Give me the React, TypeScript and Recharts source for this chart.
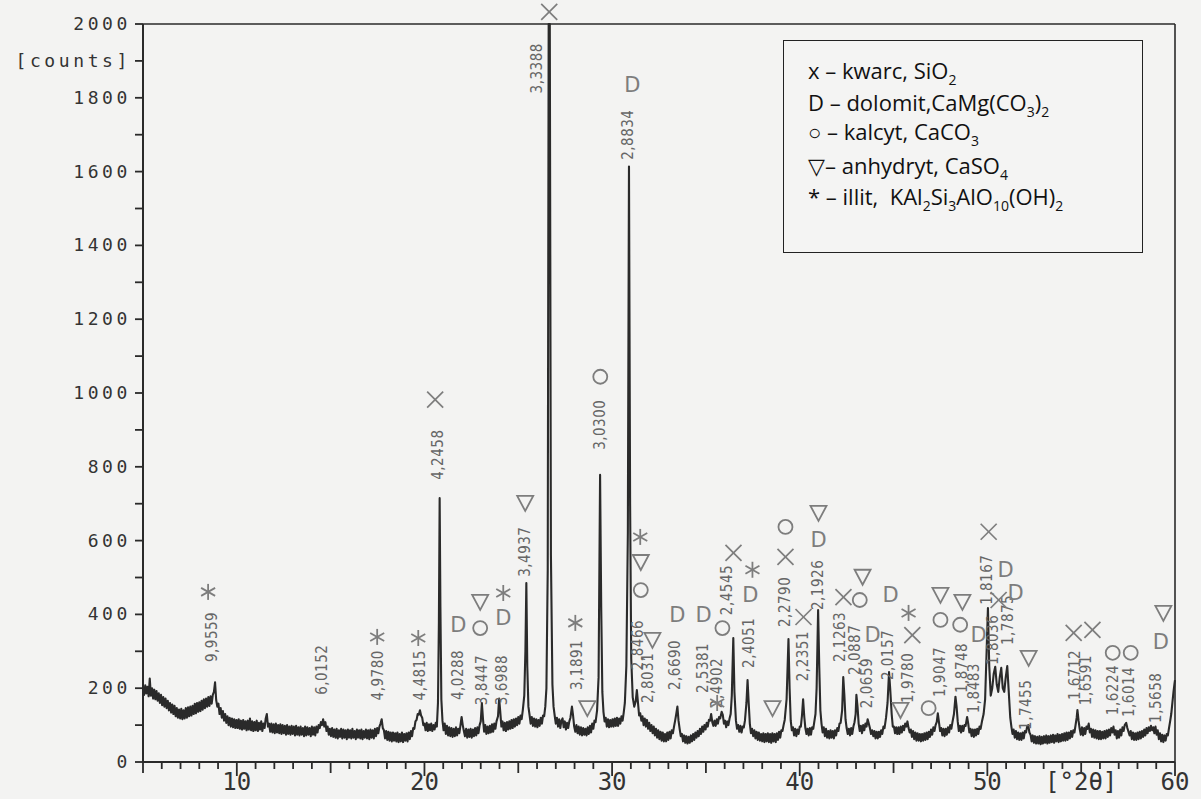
import React from "react";
import { LineChart, Line, XAxis, YAxis, ReferenceDot, ReferenceLine } from "recharts";

// XRD pattern: [2θ, counts]
const pattern: [number, number][] = [
  [5.0,200],[5.06,182],[5.12,208],[5.18,186],[5.24,204],[5.3,178],[5.36,226],[5.42,180],[5.48,200],[5.54,172],[5.6,196],[5.66,170],[5.72,192],[5.78,166],[5.84,186],[5.9,160],[5.96,182],[6.02,154],[6.08,176],[6.14,150],[6.2,172],[6.26,146],[6.32,166],[6.38,140],[6.44,160],[6.5,134],[6.56,156],[6.62,130],[6.68,152],[6.74,124],[6.8,146],[6.86,120],[6.92,142],[6.98,118],[7.04,144],[7.1,116],[7.16,140],[7.22,118],[7.28,146],[7.34,120],[7.4,148],[7.46,124],[7.52,150],[7.58,126],[7.64,152],[7.7,130],[7.76,158],[7.82,132],[7.88,160],[7.94,136],[8.0,162],[8.06,138],[8.12,166],[8.18,142],[8.24,170],[8.3,146],[8.36,172],[8.42,150],[8.48,176],[8.54,152],[8.6,178],[8.66,158],[8.72,182],[8.78,190],[8.84,216],[8.9,168],[8.96,150],[9.02,158],[9.08,130],[9.14,146],[9.2,120],[9.26,138],[9.32,112],[9.38,130],[9.44,106],[9.5,124],[9.56,100],[9.62,120],[9.68,96],[9.74,118],[9.8,94],[9.86,116],[9.92,92],[9.98,114],
  [10.04,92],[10.1,116],[10.16,90],[10.22,112],[10.28,88],[10.34,114],[10.4,90],[10.46,110],[10.52,86],[10.58,112],[10.64,88],[10.7,118],[10.76,86],[10.82,110],[10.88,84],[10.94,108],[11.0,86],[11.06,112],[11.12,84],[11.18,106],[11.24,88],[11.3,110],[11.36,84],[11.42,104],[11.48,92],[11.54,118],[11.6,130],[11.66,96],[11.72,104],[11.78,82],[11.84,104],[11.9,80],[11.96,102],[12.02,78],[12.08,104],[12.14,80],[12.2,100],[12.26,78],[12.32,102],[12.38,76],[12.44,100],[12.5,78],[12.56,98],[12.62,74],[12.68,100],[12.74,76],[12.8,96],[12.86,74],[12.92,98],[12.98,76],[13.04,96],[13.1,72],[13.16,98],[13.22,74],[13.28,94],[13.34,72],[13.4,96],[13.46,74],[13.52,92],[13.58,70],[13.64,96],[13.7,72],[13.76,94],[13.82,74],[13.88,92],[13.94,70],[14.0,96],[14.06,74],[14.12,94],[14.18,72],[14.24,96],[14.3,80],[14.36,100],[14.42,92],[14.48,108],[14.54,100],[14.6,116],[14.66,96],[14.72,108],[14.78,84],[14.84,96],[14.9,74],[14.96,90],
  [15.02,70],[15.08,92],[15.14,68],[15.2,88],[15.26,66],[15.32,90],[15.38,64],[15.44,86],[15.5,68],[15.56,90],[15.62,64],[15.68,88],[15.74,66],[15.8,86],[15.86,62],[15.92,88],[15.98,66],[16.04,86],[16.1,64],[16.16,90],[16.22,66],[16.28,84],[16.34,62],[16.4,88],[16.46,66],[16.52,86],[16.58,64],[16.64,88],[16.7,62],[16.76,84],[16.82,66],[16.88,88],[16.94,64],[17.0,86],[17.06,62],[17.12,88],[17.18,66],[17.24,86],[17.3,64],[17.36,90],[17.42,70],[17.48,92],[17.54,78],[17.6,96],[17.66,104],[17.72,116],[17.78,92],[17.84,86],[17.9,64],[17.96,84],[18.02,60],[18.08,82],[18.14,58],[18.2,80],[18.26,56],[18.32,80],[18.38,58],[18.44,78],[18.5,56],[18.56,80],[18.62,54],[18.68,76],[18.74,56],[18.8,80],[18.86,54],[18.92,76],[18.98,58],[19.04,78],[19.1,56],[19.16,80],[19.22,62],[19.28,84],[19.34,70],[19.4,92],[19.46,90],[19.52,110],[19.58,114],[19.64,130],[19.7,128],[19.76,140],[19.82,126],[19.88,120],[19.94,100],
  [20.0,104],[20.06,86],[20.12,106],[20.18,84],[20.24,102],[20.3,86],[20.36,104],[20.42,84],[20.48,100],[20.54,88],[20.6,106],[20.66,96],[20.72,160],[20.77,380],[20.81,715],[20.85,420],[20.9,170],[20.96,112],[21.02,86],[21.08,104],[21.14,76],[21.2,98],[21.26,72],[21.32,94],[21.38,70],[21.44,92],[21.5,68],[21.56,90],[21.62,70],[21.68,94],[21.74,72],[21.8,90],[21.86,78],[21.92,100],[21.98,122],[22.04,100],[22.1,84],[22.16,70],[22.22,90],[22.28,66],[22.34,88],[22.4,68],[22.46,90],[22.52,66],[22.58,88],[22.64,70],[22.7,92],[22.76,72],[22.82,94],[22.88,78],[22.94,100],[23.0,110],[23.06,160],[23.12,116],[23.18,82],[23.24,100],[23.3,76],[23.36,96],[23.42,78],[23.48,98],[23.54,80],[23.6,102],[23.66,82],[23.72,104],[23.78,90],[23.84,110],[23.92,124],[23.98,172],[24.04,136],[24.1,96],[24.16,110],[24.22,86],[24.28,106],[24.34,84],[24.4,108],[24.46,88],[24.52,110],[24.58,90],[24.64,114],[24.7,92],[24.76,116],[24.82,96],[24.88,118],[24.94,100],
  [25.0,122],[25.06,104],[25.12,126],[25.18,116],[25.24,140],[25.32,180],[25.38,300],[25.43,485],[25.48,260],[25.54,150],[25.6,128],[25.66,104],[25.72,122],[25.78,98],[25.84,118],[25.9,96],[25.96,116],[26.02,94],[26.08,114],[26.14,98],[26.2,120],[26.26,104],[26.32,126],[26.38,124],[26.44,150],[26.5,200],[26.57,520],[26.62,2000],[26.68,2000],[26.74,560],[26.82,210],[26.88,150],[26.94,126],[27.0,104],[27.06,120],[27.12,96],[27.18,116],[27.24,92],[27.3,112],[27.36,118],[27.42,94],[27.48,110],[27.54,88],[27.6,106],[27.66,92],[27.72,110],[27.78,120],[27.86,150],[27.92,126],[27.98,96],[28.04,82],[28.1,100],[28.16,78],[28.22,96],[28.28,74],[28.34,94],[28.4,72],[28.46,92],[28.52,74],[28.58,90],[28.64,72],[28.7,94],[28.76,76],[28.82,98],[28.88,80],[28.94,104],[29.0,90],[29.06,112],[29.12,108],[29.2,140],[29.28,230],[29.36,778],[29.42,420],[29.48,190],[29.54,136],[29.6,110],[29.66,120],[29.72,96],[29.78,116],[29.84,94],[29.9,114],[29.96,96],
  [30.02,116],[30.08,96],[30.14,118],[30.2,98],[30.26,120],[30.32,98],[30.38,118],[30.44,104],[30.5,124],[30.56,112],[30.62,134],[30.68,160],[30.76,260],[30.84,620],[30.9,1614],[30.96,700],[31.02,280],[31.1,175],[31.18,150],[31.26,165],[31.32,195],[31.38,160],[31.44,126],[31.5,132],[31.56,112],[31.62,124],[31.68,100],[31.74,118],[31.8,96],[31.86,114],[31.92,90],[31.98,106],[32.04,84],[32.1,100],[32.16,78],[32.22,96],[32.28,72],[32.34,90],[32.4,66],[32.46,86],[32.52,62],[32.58,82],[32.64,58],[32.7,80],[32.76,56],[32.82,76],[32.88,56],[32.94,80],[33.0,60],[33.06,82],[33.12,64],[33.18,86],[33.24,78],[33.3,96],[33.36,112],[33.42,130],[33.48,150],[33.54,112],[33.6,90],[33.66,70],[33.72,76],[33.78,56],[33.84,72],[33.9,52],[33.96,70],[34.02,50],[34.08,68],[34.14,52],[34.2,72],[34.26,56],[34.32,76],[34.38,60],[34.44,80],[34.5,66],[34.56,84],[34.62,70],[34.68,90],[34.74,76],[34.8,96],[34.86,82],[34.92,100],[34.98,88],
  [35.04,106],[35.1,96],[35.16,114],[35.22,112],[35.28,130],[35.34,108],[35.4,98],[35.46,112],[35.52,98],[35.58,116],[35.64,104],[35.7,122],[35.76,118],[35.84,136],[35.9,128],[35.96,104],[36.02,112],[36.08,94],[36.14,110],[36.2,100],[36.26,118],[36.32,130],[36.38,180],[36.46,336],[36.52,190],[36.6,112],[36.66,90],[36.72,100],[36.78,82],[36.84,98],[36.9,80],[36.96,96],[37.02,94],[37.08,112],[37.16,160],[37.22,222],[37.28,160],[37.34,104],[37.4,78],[37.46,90],[37.52,70],[37.58,86],[37.64,64],[37.7,82],[37.76,60],[37.82,80],[37.88,58],[37.94,76],[38.0,56],[38.06,78],[38.12,54],[38.18,76],[38.24,56],[38.3,78],[38.36,54],[38.42,76],[38.48,52],[38.54,78],[38.6,56],[38.66,76],[38.72,54],[38.78,78],[38.84,60],[38.9,82],[38.96,66],[39.02,86],[39.08,84],[39.14,100],[39.2,114],[39.3,170],[39.4,333],[39.46,200],[39.52,112],[39.58,86],[39.64,94],[39.7,72],[39.76,90],[39.82,70],[39.88,88],[39.94,76],
  [40.0,96],[40.06,96],[40.12,126],[40.18,170],[40.24,124],[40.3,92],[40.36,76],[40.42,90],[40.48,72],[40.54,92],[40.6,74],[40.66,94],[40.72,90],[40.78,110],[40.84,130],[40.9,200],[40.98,412],[41.04,260],[41.1,140],[41.16,104],[41.22,80],[41.28,94],[41.34,70],[41.4,90],[41.46,66],[41.52,84],[41.58,64],[41.64,86],[41.7,66],[41.76,84],[41.82,64],[41.88,86],[41.94,72],[42.0,92],[42.06,84],[42.12,104],[42.18,106],[42.26,140],[42.32,230],[42.38,180],[42.44,116],[42.5,92],[42.56,76],[42.62,90],[42.68,72],[42.74,92],[42.8,76],[42.86,96],[42.92,108],[42.98,130],[43.02,182],[43.08,150],[43.14,104],[43.2,84],[43.26,98],[43.32,78],[43.38,100],[43.44,86],[43.5,104],[43.56,96],[43.62,116],[43.68,104],[43.74,92],[43.8,76],[43.86,86],[43.92,70],[43.98,84],[44.04,64],[44.1,82],[44.16,64],[44.22,82],[44.28,68],[44.34,86],[44.4,76],[44.46,96],[44.52,92],[44.6,120],[44.68,160],[44.76,244],[44.82,200],[44.9,130],[44.96,96],
  [45.02,96],[45.08,78],[45.14,94],[45.2,76],[45.26,94],[45.32,76],[45.38,96],[45.44,80],[45.5,98],[45.56,86],[45.62,104],[45.68,96],[45.74,110],[45.8,92],[45.86,80],[45.92,88],[45.98,68],[46.04,84],[46.1,62],[46.16,80],[46.22,58],[46.28,78],[46.34,58],[46.4,76],[46.46,56],[46.52,76],[46.58,58],[46.64,78],[46.7,60],[46.76,80],[46.82,62],[46.88,82],[46.94,68],[47.0,88],[47.06,74],[47.12,94],[47.18,84],[47.24,100],[47.3,108],[47.36,132],[47.42,108],[47.48,84],[47.54,92],[47.6,72],[47.66,90],[47.72,70],[47.78,90],[47.84,74],[47.9,94],[47.96,80],[48.02,100],[48.08,90],[48.14,108],[48.22,130],[48.3,177],[48.36,150],[48.42,110],[48.48,84],[48.54,98],[48.6,80],[48.66,98],[48.72,84],[48.78,100],[48.84,98],[48.92,122],[48.98,104],[49.04,80],[49.1,90],[49.16,70],[49.22,88],[49.28,68],[49.34,88],[49.4,72],[49.46,90],[49.52,76],[49.58,96],[49.64,90],[49.72,112],[49.8,130],[49.88,170],[49.96,300],
  [50.03,417],[50.1,260],[50.18,180],[50.26,200],[50.34,240],[50.42,258],[50.5,210],[50.58,190],[50.66,230],[50.74,255],[50.82,200],[50.9,190],[50.98,230],[51.06,260],[51.14,190],[51.22,120],[51.28,96],[51.34,76],[51.4,88],[51.46,66],[51.52,84],[51.58,62],[51.64,80],[51.7,60],[51.76,78],[51.82,60],[51.88,80],[51.94,64],[52.0,84],[52.06,80],[52.12,96],[52.18,100],[52.24,80],[52.3,74],[52.36,56],[52.42,72],[52.48,52],[52.54,70],[52.6,50],[52.66,68],[52.72,50],[52.78,70],[52.84,48],[52.9,68],[52.96,50],[53.02,70],[53.08,52],[53.14,72],[53.2,50],[53.26,70],[53.32,52],[53.38,72],[53.44,54],[53.5,74],[53.56,52],[53.62,72],[53.68,56],[53.74,76],[53.8,54],[53.86,74],[53.92,56],[53.98,76],[54.04,58],[54.1,78],[54.16,58],[54.22,80],[54.28,60],[54.34,80],[54.4,64],[54.46,84],[54.52,68],[54.58,86],[54.64,80],[54.7,100],[54.76,120],[54.8,141],[54.86,112],[54.92,90],[54.98,74],
  [55.04,94],[55.1,72],[55.16,92],[55.22,76],[55.28,96],[55.34,90],[55.4,104],[55.46,80],[55.52,90],[55.58,68],[55.64,88],[55.7,66],[55.76,86],[55.82,64],[55.88,84],[55.94,62],[56.0,84],[56.06,62],[56.12,82],[56.18,64],[56.24,84],[56.3,64],[56.36,86],[56.42,68],[56.48,88],[56.54,72],[56.6,92],[56.66,80],[56.72,96],[56.78,74],[56.84,86],[56.9,64],[56.96,84],[57.02,66],[57.08,88],[57.14,72],[57.2,94],[57.26,84],[57.32,100],[57.4,106],[57.46,92],[57.52,82],[57.58,72],[57.64,84],[57.7,62],[57.76,80],[57.82,60],[57.88,78],[57.94,60],[58.0,80],[58.06,62],[58.12,82],[58.18,64],[58.24,84],[58.3,68],[58.36,88],[58.42,72],[58.48,92],[58.54,78],[58.6,94],[58.66,84],[58.72,98],[58.78,86],[58.84,94],[58.9,78],[58.96,96],[59.02,74],[59.08,86],[59.14,62],[59.2,78],[59.26,56],[59.32,74],[59.38,54],[59.44,72],[59.5,58],[59.56,76],[59.62,72],[59.68,92],[59.74,110],[59.8,130],[59.86,160],[59.92,190],[59.98,215],[60.0,222],
];

// d-spacing labels written along the peaks: [2θ, counts at label centre, text]
const dLabels: [number, number, string][] = [
  [8.68, 339, "9,9559"], [14.55, 250, "6,0152"], [17.53, 235, "4,9780"], [19.77, 235, "4,4815"],
  [20.73, 833, "4,2458"], [21.8, 236, "4,0288"], [23.08, 222, "3,8447"], [24.15, 222, "3,6988"],
  [25.37, 570, "3,4937"], [26.01, 1880, "3,3388"], [28.15, 263, "3,1891"], [29.37, 914, "3,0300"],
  [30.87, 1700, "2,8834"], [31.4, 317, "2,8466"], [31.93, 228, "2,8031"], [33.37, 263, "2,6690"],
  [34.87, 255, "2,5381"], [35.61, 214, "2,4902"], [36.15, 466, "2,4545"], [37.27, 323, "2,4051"],
  [39.24, 434, "2,2790"], [40.15, 287, "2,2351"], [40.95, 480, "2,1926"], [42.17, 339, "2,1263"],
  [42.97, 304, "2,0887"], [43.6, 214, "2,0659"], [44.73, 290, "2,0157"], [45.75, 228, "1,9780"],
  [47.5, 244, "1,9047"], [48.63, 255, "1,8748"], [49.27, 200, "1,8483"], [50.0, 494, "1,8167"],
  [50.28, 331, "1,8036"], [51.08, 385, "1,7875"], [52.04, 155, "1,7455"], [54.65, 236, "1,6712"],
  [55.24, 222, "1,6591"], [56.68, 195, "1,6224"], [57.53, 190, "1,6014"], [58.97, 174, "1,5658"],
];

// phase marks: x kwarc, D dolomit, o kalcyt, v anhydryt, * illit
const quartzMarks: [number, number][] = [
  [20.57, 982], [26.65, 2033], [36.47, 567], [39.24, 556], [40.2, 393], [42.33, 447],
  [46.0, 344], [50.07, 624], [50.6, 439], [54.6, 350], [55.6, 358],
];
const dolomiteMarks: [number, number][] = [
  [21.8, 372], [24.2, 390], [31.08, 1836], [33.48, 399], [34.87, 399], [37.37, 453], [41.0, 602],
  [43.88, 344], [44.84, 453], [49.53, 344], [50.97, 521], [51.5, 458], [59.24, 325],
];
const calciteMarks: [number, number][] = [
  [22.97, 363], [29.37, 1044], [31.53, 466], [35.88, 363], [39.24, 637], [43.2, 439],
  [46.87, 146], [47.5, 385], [48.55, 372], [56.68, 296], [57.64, 296],
];
const anhydriteMarks: [number, number][] = [
  [22.97, 434], [25.37, 702], [28.68, 146], [31.53, 542], [32.15, 331], [38.55, 146], [41.0, 675],
  [43.35, 502], [45.37, 141], [47.5, 453], [48.67, 434], [52.2, 282], [59.38, 404],
];
const illiteMarks: [number, number][] = [
  [8.47, 461], [17.48, 339], [19.67, 336], [24.2, 458], [28.04, 377], [31.5, 610],
  [35.6, 160], [37.48, 521], [45.8, 404],
];

const yTicks = [0,100,200,300,400,500,600,700,800,900,1000,1100,1200,1300,1400,1500,1600,1700,1800,1900,2000];
const xTicks = Array.from({ length: 56 }, (_, i) => 5 + i);
const xLabels: Record<number, string> = { 10: "10", 20: "20", 30: "30", 40: "40", 50: "50", 55: "[°2θ]", 60: "60" };

const data = pattern.map(([t, c]) => ({ t, c }));

const INK = "#2a2a2a";
const PENCIL = "#7d7d7d";
const MONO = "'DejaVu Sans Mono', monospace";

function YTick(p: any) {
  const v = p.payload.value;
  const label = v === 1900 ? "[counts]" : v % 200 === 0 ? String(v) : "";
  return (
    <g>
      <line x1={p.x - 8} y1={p.y} x2={p.x} y2={p.y} stroke={INK} strokeWidth={1.8} />
      {label && (
        <text x={p.x - 12} y={p.y + 6} textAnchor="end" fontFamily={MONO} fontSize={18} letterSpacing={3.6} fill="#333">
          {label}
        </text>
      )}
    </g>
  );
}

function XTick(p: any) {
  const v = p.payload.value;
  const len = v % 10 === 0 ? 14 : v % 5 === 0 ? 11 : 7;
  const label = xLabels[v];
  return (
    <g>
      <line x1={p.x} y1={p.y} x2={p.x} y2={p.y + len} stroke={INK} strokeWidth={1.8} />
      {label && (
        <text x={p.x} y={p.y + 28} textAnchor="middle" fontFamily={MONO} fontSize={24} fill="#333">
          {label}
        </text>
      )}
    </g>
  );
}

const xShape = (p: any) => (
  <g stroke={PENCIL} strokeWidth={1.7}>
    <line x1={p.cx - 8} y1={p.cy - 8} x2={p.cx + 8} y2={p.cy + 8} />
    <line x1={p.cx - 8} y1={p.cy + 8} x2={p.cx + 8} y2={p.cy - 8} />
  </g>
);
const dShape = (p: any) => (
  <text x={p.cx} y={p.cy + 7} textAnchor="middle" fontFamily="'DejaVu Sans'" fontSize={21} fill={PENCIL}>D</text>
);
const oShape = (p: any) => <circle cx={p.cx} cy={p.cy} r={7} fill="none" stroke={PENCIL} strokeWidth={1.8} />;
const vShape = (p: any) => (
  <path d={`M${p.cx - 8},${p.cy - 7} L${p.cx + 8},${p.cy - 7} L${p.cx},${p.cy + 8} Z`} fill="none" stroke={PENCIL} strokeWidth={1.8} />
);
const starShape = (p: any) => (
  <g stroke={PENCIL} strokeWidth={1.8}>
    <line x1={p.cx} y1={p.cy - 8} x2={p.cx} y2={p.cy + 8} />
    <line x1={p.cx - 7} y1={p.cy - 4} x2={p.cx + 7} y2={p.cy + 4} />
    <line x1={p.cx - 7} y1={p.cy + 4} x2={p.cx + 7} y2={p.cy - 4} />
  </g>
);

function dLabelShape(text: string) {
  return (p: any) => (
    <text
      x={p.cx}
      y={p.cy}
      transform={`rotate(-90 ${p.cx} ${p.cy})`}
      textAnchor="middle"
      dominantBaseline="central"
      fontFamily="'DejaVu Sans Condensed', 'DejaVu Sans'"
      fontSize={15}
      letterSpacing={0.5}
      fill="#666"
    >
      {text}
    </text>
  );
}

const legendRows: { lead: string; parts: [string, string?][] }[] = [
  { lead: "x – kwarc, ", parts: [["SiO"], ["2", "sub"]] },
  { lead: "D – dolomit,", parts: [["CaMg(CO"], ["3", "sub"], [")"], ["2", "sub"]] },
  { lead: "○ – kalcyt, ", parts: [["CaCO"], ["3", "sub"]] },
  { lead: "▽– anhydryt, ", parts: [["CaSO"], ["4", "sub"]] },
  { lead: "* – illit,  ", parts: [["KAl"], ["2", "sub"], ["Si"], ["3", "sub"], ["AlO"], ["10", "sub"], ["(OH)"], ["2", "sub"]] },
];
const legendTops = [16, 48, 77, 111, 142];

export default function App() {
  const marks = (pts: [number, number][], shape: any, key: string) =>
    pts.map(([x, y], i) => (
      <ReferenceDot key={key + i} x={x} y={y} r={0} ifOverflow="visible" shape={shape} />
    ));

  return (
    <div style={{ position: "absolute", left: 0, top: 0, width: 1201, height: 799, background: "#f3f3f2" }}>
      <LineChart width={1201} height={799} data={data} margin={{ top: 24, right: 26, bottom: 0, left: 0 }}>
        <XAxis
          dataKey="t"
          type="number"
          domain={[5, 60]}
          ticks={xTicks}
          interval={0}
          height={37}
          tickSize={0}
          tickMargin={0}
          tickLine={false}
          tick={XTick}
          axisLine={{ stroke: INK, strokeWidth: 2 }}
        />
        <YAxis
          type="number"
          domain={[0, 2000]}
          ticks={yTicks}
          interval={0}
          width={143}
          tickSize={0}
          tickMargin={0}
          tickLine={false}
          tick={YTick}
          axisLine={{ stroke: INK, strokeWidth: 2 }}
        />
        <ReferenceLine y={2000} stroke={INK} strokeWidth={1.6} ifOverflow="visible" />
        <ReferenceLine x={60} stroke={INK} strokeWidth={1.6} ifOverflow="visible" />
        <Line
          dataKey="c"
          type="linear"
          dot={false}
          stroke={INK}
          strokeWidth={2.1}
          strokeLinejoin="round"
          isAnimationActive={false}
        />
        {dLabels.map(([x, y, text], i) => (
          <ReferenceDot key={"d" + i} x={x} y={y} r={0} ifOverflow="visible" shape={dLabelShape(text)} />
        ))}
        {marks(quartzMarks, xShape, "q")}
        {marks(dolomiteMarks, dShape, "do")}
        {marks(calciteMarks, oShape, "c")}
        {marks(anhydriteMarks, vShape, "a")}
        {marks(illiteMarks, starShape, "i")}
      </LineChart>

      <div
        style={{
          position: "absolute",
          left: 783,
          top: 40,
          width: 358,
          height: 211,
          border: "1.6px solid #222",
          background: "#f4f4f3",
          fontFamily: "'Open Sans', 'Noto Sans', sans-serif",
          fontSize: 22,
          color: "#111",
        }}
      >
        {legendRows.map((row, i) => (
          <div key={i} style={{ position: "absolute", left: 24, top: legendTops[i], whiteSpace: "pre", lineHeight: "26px" }}>
            {row.lead}
            {row.parts.map(([s, kind], j) =>
              kind === "sub" ? (
                <span key={j} style={{ fontSize: 14, position: "relative", top: 6 }}>{s}</span>
              ) : (
                <span key={j}>{s}</span>
              )
            )}
          </div>
        ))}
      </div>
    </div>
  );
}
